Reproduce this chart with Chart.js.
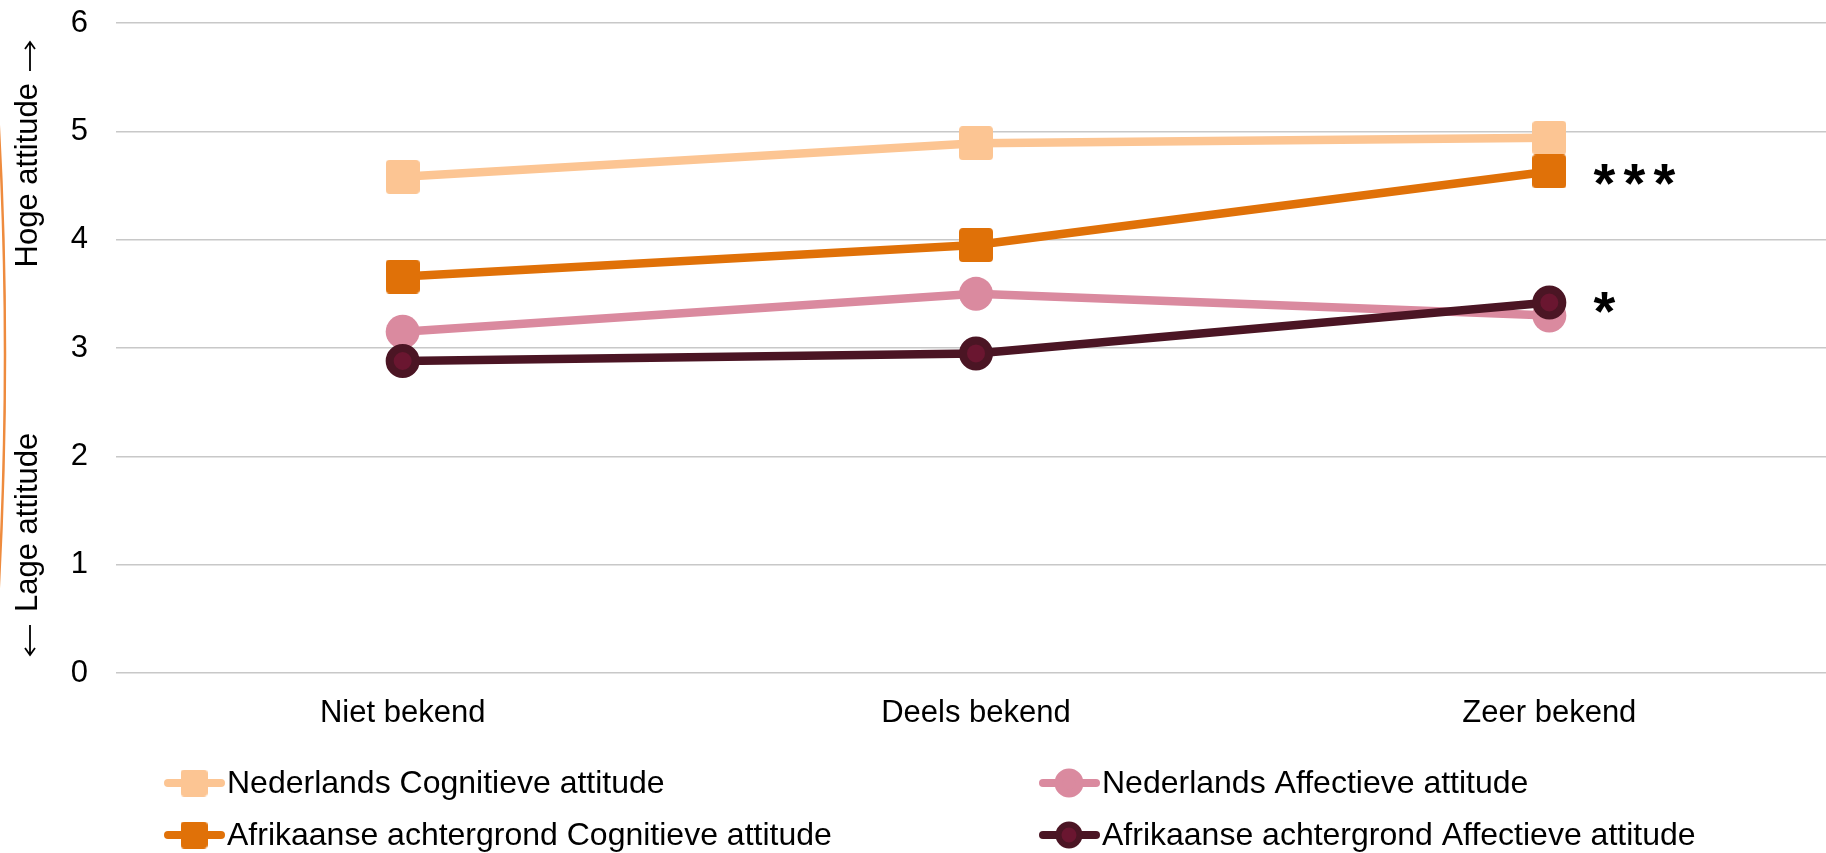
<!DOCTYPE html>
<html>
<head>
<meta charset="utf-8">
<script src="https://cdn.jsdelivr.net/npm/chart.js@4.4.0/dist/chart.umd.min.js"></script>
<style>
  html, body { margin: 0; padding: 0; background: #fff; overflow: hidden; }
  #wrap { width: 1826px; height: 853px; overflow: hidden; position: relative; }
  canvas { display: block; }
</style>
</head>
<body>
<div id="wrap"><canvas id="c" width="1840" height="853" style="width:1840px;height:853px"></canvas></div>
<script>
// data
const categories = ['Niet bekend', 'Deels bekend', 'Zeer bekend'];
const nlCognitief = [4.58, 4.89, 4.94];
const afCognitief = [3.66, 3.95, 4.63];
const nlAffectief = [3.15, 3.50, 3.30];
const afAffectief = [2.88, 2.95, 3.42];
const seriesNames = [
  'Nederlands Cognitieve attitude',
  'Afrikaanse achtergrond Cognitieve attitude',
  'Nederlands Affectieve attitude',
  'Afrikaanse achtergrond Affectieve attitude'
];
const yTicks = [0, 1, 2, 3, 4, 5, 6];
const signifLabels = ['***', '*'];          // next to Zeer bekend
const signifValues = [4.63, 3.42];
const axisLow = 'Lage attitude';
const axisHigh = 'Hoge attitude';

const FONT = '"Liberation Sans", Arial, sans-serif';
const LIGHT = '#FCC593', ORANGE = '#E07108', PINK = '#DA8A9F', DARK = '#4B1524', DARKIN = '#6A1630';

function roundSquare(color, side, r) {
  const c = document.createElement('canvas');
  c.width = side; c.height = side;
  const g = c.getContext('2d');
  g.fillStyle = color;
  g.beginPath();
  g.moveTo(r, 0); g.lineTo(side - r, 0); g.quadraticCurveTo(side, 0, side, r);
  g.lineTo(side, side - r); g.quadraticCurveTo(side, side, side - r, side);
  g.lineTo(r, side); g.quadraticCurveTo(0, side, 0, side - r);
  g.lineTo(0, r); g.quadraticCurveTo(0, 0, r, 0);
  g.fill();
  return c;
}
const sqLight = roundSquare(LIGHT, 34, 4);
const sqOrange = roundSquare(ORANGE, 34, 4);

function vArrow(ctx, x, yFrom, yTo) {
  const dir = yTo > yFrom ? 1 : -1;
  ctx.beginPath();
  ctx.moveTo(x, yFrom); ctx.lineTo(x, yTo);
  ctx.moveTo(x - 5, yTo - dir * 7); ctx.lineTo(x, yTo); ctx.lineTo(x + 5, yTo - dir * 7);
  ctx.stroke();
}

const sideStuff = {
  id: 'sideStuff',
  afterDraw(chart) {
    const ctx = chart.ctx;
    const xs = chart.scales.x, ys = chart.scales.y;
    ctx.save();

    // orange bracket at the left edge
    ctx.strokeStyle = '#EE8B3E';
    ctx.lineWidth = 2.5;
    ctx.beginPath();
    ctx.moveTo(-3, 95);
    ctx.quadraticCurveTo(13, 350, -3, 620);
    ctx.stroke();

    // arrows of the y title
    ctx.strokeStyle = '#000';
    ctx.lineWidth = 1.8;
    vArrow(ctx, 30, 71, 42);
    vArrow(ctx, 30, 625, 655);

    // y axis title (rotated): u = -y
    ctx.fillStyle = '#000';
    ctx.font = '31px ' + FONT;
    ctx.textBaseline = 'alphabetic';
    ctx.translate(37, 0);
    ctx.rotate(-Math.PI / 2);
    ctx.textAlign = 'left';
    ctx.fillText(axisLow, -612, 0);
    ctx.textAlign = 'right';
    ctx.fillText(axisHigh, -83, 0);
    ctx.restore();

    // significance stars, one glyph at a time
    ctx.save();
    ctx.fillStyle = '#000';
    ctx.font = 'bold 56px ' + FONT;
    ctx.textAlign = 'center';
    ctx.textBaseline = 'alphabetic';
    const m = ctx.measureText('*');
    const shift = (m.actualBoundingBoxAscent - m.actualBoundingBoxDescent) / 2;
    signifLabels.forEach((s, i) => {
      const x0 = xs.getPixelForValue(2) + 55;
      const y = ys.getPixelForValue(signifValues[i]) + (i === 0 ? 3 : 0);
      for (let k = 0; k < s.length; k++) {
        ctx.fillText(s[k], x0 + k * 30, y + shift);
      }
    });
    ctx.restore();

    // legend, two columns
    const cols = [194, 1069];
    const rows = [783, 835];
    const order = [[0, 0], [1, 0], [0, 1], [1, 1]]; // [row, col] per dataset index
    ctx.save();
    ctx.font = '32px ' + FONT;
    ctx.textBaseline = 'middle';
    ctx.textAlign = 'left';
    chart.data.datasets.forEach((ds, i) => {
      const cx = cols[order[i][1]], cy = rows[order[i][0]];
      ctx.strokeStyle = ds.borderColor;
      ctx.lineWidth = 8;
      ctx.lineCap = 'round';
      ctx.beginPath();
      ctx.moveTo(cx - 26, cy); ctx.lineTo(cx + 27, cy);
      ctx.stroke();
      if (ds.pointStyle === 'circle') {
        ctx.beginPath();
        ctx.arc(cx, cy, 10.5, 0, Math.PI * 2);
        ctx.fillStyle = ds.pointBackgroundColor;
        ctx.fill();
        ctx.lineWidth = ds.pointBorderWidth * 0.75;
        ctx.strokeStyle = ds.pointBorderColor;
        if (ctx.lineWidth > 0) ctx.stroke();
      } else {
        const sq = roundSquare(ds.borderColor, 27, 4);
        ctx.drawImage(sq, cx - 13.5, cy - 13.5);
      }
      ctx.fillStyle = '#000';
      ctx.fillText(ds.label, cx + 33, cy + 1);
    });
    ctx.restore();
  }
};

new Chart(document.getElementById('c'), {
  type: 'line',
  data: {
    labels: categories,
    datasets: [
      { label: seriesNames[0], data: nlCognitief, borderColor: LIGHT, backgroundColor: LIGHT,
        pointStyle: sqLight, order: 3 },
      { label: seriesNames[1], data: afCognitief, borderColor: ORANGE, backgroundColor: ORANGE,
        pointStyle: sqOrange, order: 1 },
      { label: seriesNames[2], data: nlAffectief, borderColor: PINK, backgroundColor: PINK,
        pointStyle: 'circle', pointRadius: 17, pointBackgroundColor: PINK, pointBorderColor: PINK,
        pointBorderWidth: 0, order: 2 },
      { label: seriesNames[3], data: afAffectief, borderColor: DARK, backgroundColor: DARK,
        pointStyle: 'circle', pointRadius: 13, pointBackgroundColor: DARKIN, pointBorderColor: DARK,
        pointBorderWidth: 8, order: 0 }
    ]
  },
  options: {
    responsive: false,
    animation: false,
    devicePixelRatio: 1,
    layout: { autoPadding: false, padding: { top: 23, right: 4, left: 0, bottom: 0 } },
    elements: {
      line: { borderWidth: 8.5, tension: 0, borderCapStyle: 'round' },
      point: { radius: 17, hoverRadius: 17 }
    },
    plugins: { legend: { display: false }, tooltip: { enabled: false } },
    scales: {
      x: {
        offset: true,
        grid: { display: false },
        border: { display: false },
        ticks: { color: '#000', font: { family: FONT, size: 31 }, padding: 14, maxRotation: 0 },
        afterFit(s) { s.height = 180; s.paddingLeft = 0; s.paddingRight = 0; }
      },
      y: {
        min: 0, max: 6,
        afterBuildTicks(s) { s.ticks = yTicks.map(v => ({ value: v })); },
        grid: { color: '#C8C8C8', lineWidth: 1.5, drawTicks: false },
        border: { display: false },
        ticks: { color: '#000', font: { family: FONT, size: 31 }, padding: 28 },
        afterFit(s) { s.width = 116; s.paddingTop = 0; s.paddingBottom = 0; }
      }
    }
  },
  plugins: [sideStuff]
});
</script>
</body>
</html>
